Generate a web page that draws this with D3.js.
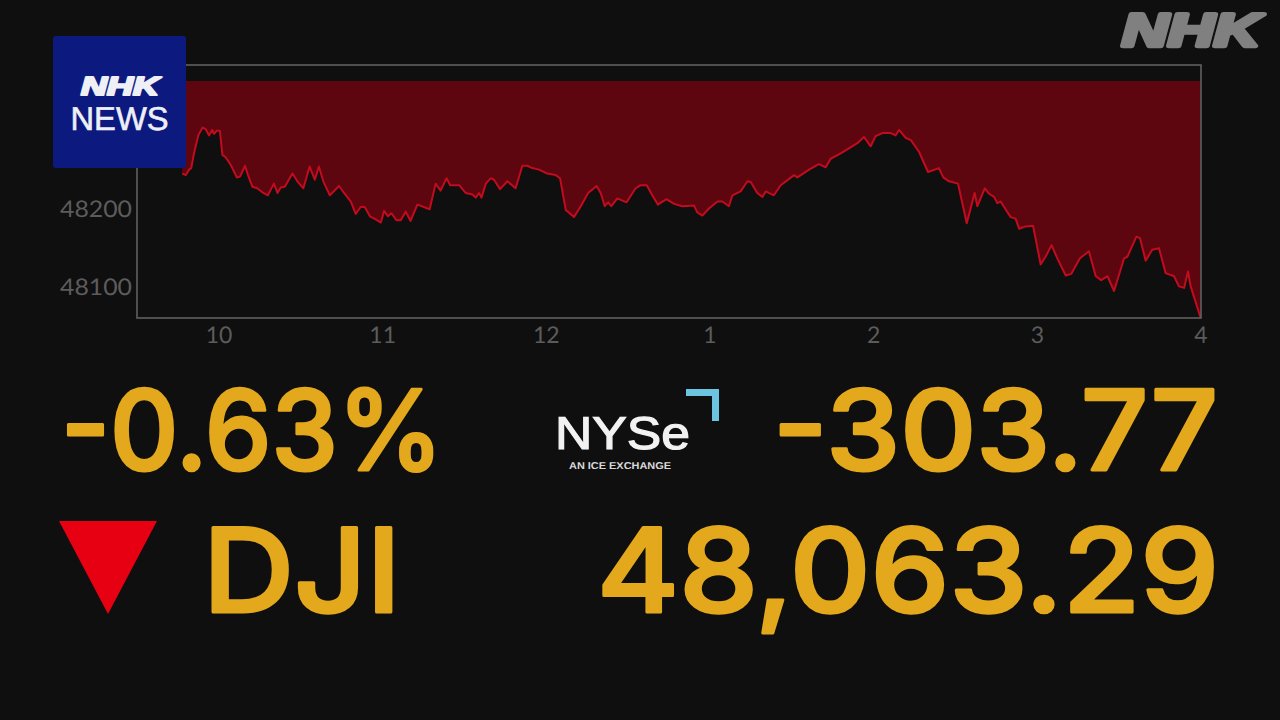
<!DOCTYPE html>
<html><head><meta charset="utf-8">
<script src="https://cdn.jsdelivr.net/npm/d3@7"></script>
<style>html,body{margin:0;padding:0;background:#0f0f0f;overflow:hidden}svg{display:block}text{text-rendering:geometricPrecision}</style>
</head><body><svg id="c" width="1280" height="720"></svg>
<script>
const minutes=[16.7,18,19.2,20,21,22.6,24.1,25.3,26.5,27.7,28.4,29.3,30.5,31.4,32.6,34.5,36.7,37.9,39.7,40.8,42.4,44.2,46.4,48.1,50.3,51.6,52.8,54.3,57.1,58.9,61.1,63.4,65.3,66.8,68.4,70.8,74.2,76,78.5,80.3,82.1,83.6,85.5,87.6,89.5,90.7,92.1,93.4,95.2,96.8,98.6,100.4,102.9,105.3,107.4,109.6,111.4,113.6,114.9,118.2,120.6,123.1,124.3,125.5,126.4,128,129.8,131,133.2,135.9,138.9,141.4,143.2,145,147.5,150.5,153.6,155.2,157.3,160.3,162.8,165.5,168.6,170.1,171.6,172.8,174,176.2,179.6,182.9,184.8,187,189,191.1,194.2,197,200,204.3,205.5,207.4,209.8,212.9,214.7,217.1,218.4,221.4,223.9,225.1,227.5,229.4,230.6,233.6,236.1,241,242.2,246.5,250.1,252.6,254.4,258.1,260.5,264.2,266.6,269.1,270.9,273.4,276.4,278.2,279.5,281.9,283.8,286.8,290.1,294.1,295.7,297.8,301.1,304.3,307.2,308.2,310.9,312.5,314.3,315.5,316.7,320.4,322.2,323.5,325.9,328.6,331.4,333.2,335.4,337.5,340.6,342.6,345.8,349.1,351.6,353.6,355.9,358.3,362,363.2,366.5,367.8,369.9,372.3,374.8,377.2,380.3,382.1,384,385.4,386.4,390];
const values=[48248,48246,48253,48255,48274,48297,48307,48305,48297,48304,48299,48303,48303,48272,48269,48259,48243,48244,48258,48246,48231,48229,48223,48220,48235,48223,48230,48231,48248,48238,48229,48257,48240,48257,48238,48220,48232,48223,48212,48196,48205,48205,48193,48189,48185,48200,48193,48197,48188,48188,48199,48187,48208,48205,48202,48235,48226,48242,48233,48233,48223,48221,48217,48223,48217,48235,48242,48240,48228,48238,48229,48258,48258,48255,48253,48248,48246,48242,48201,48192,48206,48223,48232,48223,48206,48211,48206,48216,48211,48229,48233,48233,48220,48208,48215,48209,48206,48207,48198,48194,48203,48212,48212,48206,48220,48225,48238,48237,48223,48218,48225,48220,48233,48246,48243,48253,48260,48256,48267,48274,48279,48287,48295,48283,48296,48300,48300,48297,48304,48294,48291,48276,48250,48255,48243,48238,48235,48184,48223,48206,48229,48222,48218,48210,48212,48192,48190,48177,48180,48181,48131,48141,48156,48139,48117,48119,48139,48148,48116,48111,48116,48097,48139,48141,48167,48165,48136,48150,48152,48120,48116,48103,48101,48122,48103,48063];
const prevClose=48367.06;
const xTickMinutes=[30,90,150,210,270,330,390];
const xTickLabels=["10","11","12","1","2","3","4"];
const yTicks=[48100,48200];
const pctText="-0.63%", changeText="-303.77", nameText="DJI", priceText="48,063.29";

const svg=d3.select("#c");
svg.append("rect").attr("width",1280).attr("height",720).attr("fill","#0f0f0f");
const x=d3.scaleLinear().domain([0,390]).range([136.7,1200.5]);
const y=d3.scaleLinear().domain([48062.3,48387.5]).range([318,65]);
const pts=minutes.map((m,i)=>[m,values[i]]);
const area=d3.area().x(d=>x(d[0])).y0(y(prevClose)).y1(d=>y(d[1]));
const line=d3.line().x(d=>x(d[0])).y(d=>y(d[1]));
svg.append("path").attr("d",area(pts)).attr("fill","#5e0610");
svg.append("path").attr("d",line(pts)).attr("fill","none").attr("stroke","#c20c1e").attr("stroke-width",2).attr("stroke-linejoin","round");
svg.append("rect").attr("x",137).attr("y",65).attr("width",1064).attr("height",253).attr("fill","none").attr("stroke","#606060").attr("stroke-width",1.6);

const axisFont="400 23px Lato,sans-serif";
const xAxis=d3.axisBottom(x).tickValues(xTickMinutes).tickFormat((d,i)=>xTickLabels[i]).tickSize(0).tickPadding(5);
const gx=svg.append("g").attr("transform","translate(0,318)").call(xAxis);
gx.select(".domain").remove();
gx.selectAll("text").attr("fill","#5c5c5c").style("font",axisFont).attr("dy","0.88em");
const yAxis=d3.axisLeft(y).tickValues(yTicks).tickFormat(d3.format("d")).tickSize(0).tickPadding(5);
const gy=svg.append("g").attr("transform","translate(137,-2)").call(yAxis);
gy.select(".domain").remove();
gy.selectAll("text").attr("fill","#5c5c5c").style("font",axisFont).attr("textLength",72).attr("lengthAdjust","spacingAndGlyphs");

// NHK NEWS badge
svg.append("rect").attr("x",53).attr("y",36).attr("width",133).attr("height",132).attr("rx",3).attr("fill","#0c1a80");
svg.append("text").attr("x",120).attr("y",95).attr("text-anchor","middle").attr("fill","#eef0f6")
 .attr("stroke","#eef0f6").attr("stroke-width",2.2).attr("stroke-linejoin","round")
 .attr("textLength",78).attr("lengthAdjust","spacingAndGlyphs")
 .style("font","italic 700 26px 'Liberation Sans',sans-serif").text("NHK");
svg.append("text").attr("x",119.5).attr("y",130).attr("text-anchor","middle").attr("fill","#eef0f6")
 .attr("stroke","#eef0f6").attr("stroke-width",0.6)
 .attr("textLength",98).attr("lengthAdjust","spacingAndGlyphs")
 .style("font","400 33px 'Liberation Sans',sans-serif").text("NEWS");
// NHK watermark
svg.append("text").attr("x",1191).attr("y",46).attr("text-anchor","middle").attr("fill","#808080")
 .attr("stroke","#808080").attr("stroke-width",4.5).attr("stroke-linejoin","round")
 .attr("textLength",138).attr("lengthAdjust","spacingAndGlyphs")
 .style("font","italic 700 46px 'Liberation Sans',sans-serif").text("NHK");

// headline numbers
const gold="#e3a81c";
function big(t,x0,x1,base,size){
 svg.append("text").attr("x",x0).attr("y",base).attr("fill",gold)
  .attr("stroke",gold).attr("stroke-width",3).attr("stroke-linejoin","round")
  .attr("textLength",x1-x0).attr("lengthAdjust","spacingAndGlyphs")
  .style("font",`500 ${size}px Inter,sans-serif`).text(t);
}
big(pctText,61,443,470,111);
big(changeText,773,1218,470,111);
big(nameText,203,401,612,116);
big(priceText,597,1219,612,116);
svg.append("path").attr("d",d3.line()([[59,521],[157,521],[108,614]])+"Z").attr("fill","#e60012");

// NYSE logo
svg.append("text").attr("x",555).attr("y",449).attr("fill","#f2f2f2")
 .attr("stroke","#f2f2f2").attr("stroke-width",1.2)
 .attr("textLength",135).attr("lengthAdjust","spacingAndGlyphs")
 .style("font","400 46px 'Liberation Sans',sans-serif").text("NYSe");
svg.append("text").attr("x",569).attr("y",469).attr("fill","#d9d9d9")
 .attr("textLength",102).attr("lengthAdjust","spacingAndGlyphs")
 .style("font","700 10px 'Liberation Sans',sans-serif").text("AN ICE EXCHANGE");
svg.append("path").attr("d","M686,389H719V421H712V396H686Z").attr("fill","#6cc5e0");
</script></body></html>
